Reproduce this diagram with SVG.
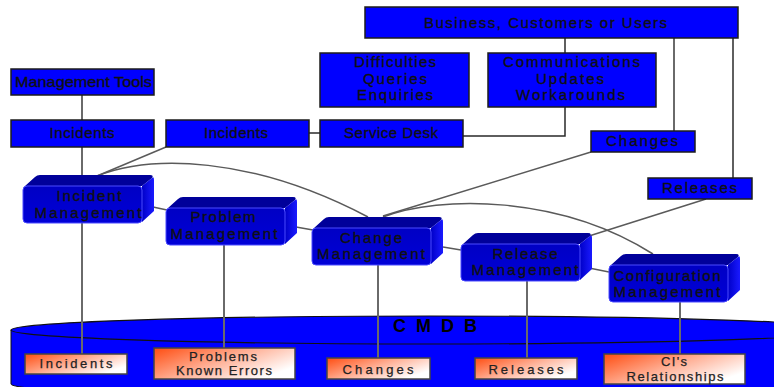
<svg xmlns="http://www.w3.org/2000/svg" xmlns:xlink="http://www.w3.org/1999/xlink" width="774" height="387" viewBox="0 0 774 387">
  <defs>
    <style>
      text { font-family: "Liberation Sans", Arial, sans-serif; fill: #111; text-anchor: middle; stroke: #111; stroke-width: 0.35; }
      .lbl { font-size: 15px; }
      .mg { font-size: 15px; }
      .db { font-size: 13px; fill: #222; stroke: #222; stroke-width: 0.25; }
      .cmdb { font-size: 18px; font-weight: bold; fill: #000; stroke: none; }
      .box { fill: #0000ff; stroke: #1c1c1c; stroke-width: 1.5; }
      .rec { fill: url(#recGrad); stroke: #444; stroke-width: 1.5; }
      .ln { fill: none; stroke: #6a6a6a; stroke-width: 2; }
      .dk { fill: none; stroke: #2a2a2a; stroke-width: 1.5; }
      .thin { fill: none; stroke: #5a5a5a; stroke-width: 1.5; }
    </style>
    <linearGradient id="recGrad" x1="0" y1="0" x2="1" y2="0.6">
      <stop offset="0" stop-color="#ff4c10"/>
      <stop offset="0.55" stop-color="#ffb39a"/>
      <stop offset="1" stop-color="#ffffff"/>
    </linearGradient>
    <linearGradient id="frontGrad" x1="0" y1="0" x2="0" y2="1">
      <stop offset="0" stop-color="#0000c4"/>
      <stop offset="1" stop-color="#0000d8"/>
    </linearGradient>
    <linearGradient id="sideGrad" x1="0" y1="0" x2="1" y2="0">
      <stop offset="0" stop-color="#0000c8"/>
      <stop offset="1" stop-color="#1a1aff"/>
    </linearGradient>
    <!-- bevelled process block: top face, right face, front face -->
    <g id="block3d">
      <path d="M2,11 L12,2 Q14,0 17,0 H127 Q131,0 129,3 L119,11 Z" fill="#00009a"/>
      <path d="M119,11 L129,3 Q131,1 131,5 V36 L119,47 Z" fill="url(#sideGrad)"/>
      <rect x="0" y="11" width="119" height="37" rx="4" fill="url(#frontGrad)" stroke="#4a4aff" stroke-width="1"/>
    </g>
  </defs>

  <rect width="774" height="387" fill="#ffffff"/>

  <!-- CMDB cylinder -->
  <g id="cmdb">
    <path d="M11,330 L11,384 A419,14 0 0,0 849,384 L849,330 Z" fill="#0000ff" stroke="#111" stroke-width="1"/>
    <ellipse cx="430" cy="330" rx="419" ry="14" fill="#0000ff" stroke="#111" stroke-width="1.2"/>
    <text class="cmdb" x="435" y="332" textLength="84" lengthAdjust="spacing">C M D B</text>
  </g>

  <!-- connectors -->
  <g id="connectors">
    <path class="ln" d="M82,95 V120"/>
    <path class="ln" d="M82,147 V354"/>
    <path class="ln" d="M224,245 V348"/>
    <path class="ln" d="M378,265 V358"/>
    <path class="ln" d="M527,281 V358"/>
    <path class="ln" d="M680,301 V354"/>
    <path class="ln" d="M674,38 V131"/>
    <path class="dk" d="M565,38 V53"/>
    <path class="dk" d="M565,107 V136 H463"/>
    <path class="dk" d="M309,133 H320"/>
    <path class="dk" d="M733,38 V178"/>
    <path class="thin" d="M166,147 L97,176"/>
    <path class="thin" d="M97,176 C150,155 250,155 368,217"/>
    <path class="thin" d="M591,152 L383,216"/>
    <path class="thin" d="M383,217 C440,195 560,195 653,254"/>
    <path class="thin" d="M706,199 L589,236"/>
    <path class="thin" d="M153,207 L167,210"/>
    <path class="thin" d="M296,227 L313,230"/>
    <path class="thin" d="M443,247 L461,250"/>
    <path class="thin" d="M589,268 L609,272"/>
  </g>

  <!-- sources and channels -->
  <g id="business">
    <rect class="box" x="365" y="7" width="373" height="31"/>
    <text class="lbl" x="545.5" y="28" textLength="243" lengthAdjust="spacing">Business, Customers or Users</text>
  </g>
  <g id="mgmt-tools">
    <rect class="box" x="11" y="69" width="143" height="26"/>
    <text class="lbl" x="83.5" y="87" textLength="137" lengthAdjust="spacingAndGlyphs">Management Tools</text>
  </g>
  <g id="incidents-tools">
    <rect class="box" x="11" y="120" width="143" height="27"/>
    <text class="lbl" x="82" y="138" textLength="65" lengthAdjust="spacing">Incidents</text>
  </g>
  <g id="incidents-desk">
    <rect class="box" x="166" y="120" width="143" height="27"/>
    <text class="lbl" x="236" y="138" textLength="64" lengthAdjust="spacing">Incidents</text>
  </g>
  <g id="service-desk">
    <rect class="box" x="320" y="120" width="143" height="27"/>
    <text class="lbl" x="391" y="138" textLength="94" lengthAdjust="spacing">Service Desk</text>
  </g>
  <g id="difficulties">
    <rect class="box" x="320" y="53" width="149" height="54"/>
    <text class="lbl" x="395" y="67" textLength="82" lengthAdjust="spacing">Difficulties</text>
    <text class="lbl" x="395" y="84" textLength="64" lengthAdjust="spacing">Queries</text>
    <text class="lbl" x="395" y="100" textLength="76" lengthAdjust="spacing">Enquiries</text>
  </g>
  <g id="communications">
    <rect class="box" x="488" y="53" width="168" height="54"/>
    <text class="lbl" x="571.5" y="67" textLength="137" lengthAdjust="spacing">Communications</text>
    <text class="lbl" x="570" y="84" textLength="68" lengthAdjust="spacing">Updates</text>
    <text class="lbl" x="570.5" y="100" textLength="109" lengthAdjust="spacing">Workarounds</text>
  </g>
  <g id="changes-in">
    <rect class="box" x="591" y="131" width="104" height="21"/>
    <text class="lbl" x="642" y="146" textLength="72" lengthAdjust="spacing">Changes</text>
  </g>
  <g id="releases-out">
    <rect class="box" x="648" y="178" width="104" height="21"/>
    <text class="lbl" x="699.5" y="193" textLength="75" lengthAdjust="spacing">Releases</text>
  </g>

  <!-- process blocks -->
  <g id="incident-mgmt">
    <use xlink:href="#block3d" x="23" y="175"/>
    <text class="mg" x="89" y="201" textLength="65" lengthAdjust="spacing">Incident</text>
    <text class="mg" x="88" y="218" textLength="107" lengthAdjust="spacing">Management</text>
  </g>
  <g id="problem-mgmt">
    <use xlink:href="#block3d" x="166" y="197"/>
    <text class="mg" x="223" y="222" textLength="65" lengthAdjust="spacing">Problem</text>
    <text class="mg" x="224" y="239" textLength="107" lengthAdjust="spacing">Management</text>
  </g>
  <g id="change-mgmt">
    <use xlink:href="#block3d" x="312" y="217"/>
    <text class="mg" x="371" y="243" textLength="62" lengthAdjust="spacing">Change</text>
    <text class="mg" x="371" y="259" textLength="108" lengthAdjust="spacing">Management</text>
  </g>
  <g id="release-mgmt">
    <use xlink:href="#block3d" x="461" y="233"/>
    <text class="mg" x="525" y="259" textLength="65" lengthAdjust="spacing">Release</text>
    <text class="mg" x="525" y="275" textLength="107" lengthAdjust="spacing">Management</text>
  </g>
  <g id="config-mgmt">
    <use xlink:href="#block3d" x="609" y="254"/>
    <text class="mg" x="667" y="281" textLength="107" lengthAdjust="spacing">Configuration</text>
    <text class="mg" x="667" y="297" textLength="107" lengthAdjust="spacing">Management</text>
  </g>

  <!-- CMDB records -->
  <g id="rec-incidents">
    <rect class="rec" x="25" y="354" width="102" height="20"/>
    <text class="db" x="76" y="368" textLength="73" lengthAdjust="spacing">Incidents</text>
  </g>
  <g id="rec-problems">
    <rect class="rec" x="154" y="348" width="141" height="31"/>
    <text class="db" x="223" y="361" textLength="68" lengthAdjust="spacing">Problems</text>
    <text class="db" x="224" y="375" textLength="96" lengthAdjust="spacing">Known Errors</text>
  </g>
  <g id="rec-changes">
    <rect class="rec" x="327" y="358" width="103" height="21"/>
    <text class="db" x="378" y="374" textLength="71" lengthAdjust="spacing">Changes</text>
  </g>
  <g id="rec-releases">
    <rect class="rec" x="475" y="358" width="102" height="21"/>
    <text class="db" x="526" y="374" textLength="75" lengthAdjust="spacing">Releases</text>
  </g>
  <g id="rec-cis">
    <rect class="rec" x="604" y="354" width="141" height="30"/>
    <text class="db" x="674" y="366" textLength="26" lengthAdjust="spacing">CI's</text>
    <text class="db" x="675" y="381" textLength="97" lengthAdjust="spacing">Relationships</text>
  </g>
</svg>
